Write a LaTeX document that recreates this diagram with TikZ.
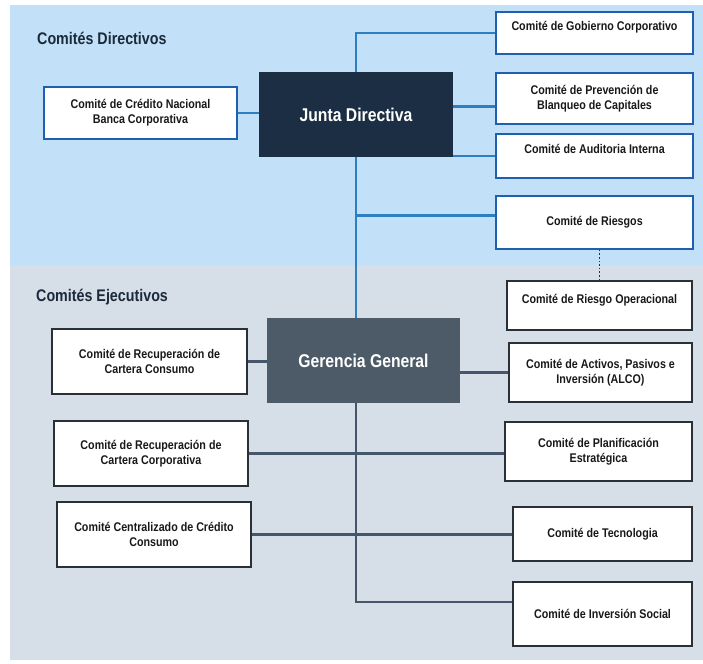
\documentclass[tikz,border=0pt]{standalone}
\usepackage{fontspec}
\setmainfont{Liberation Sans}[FakeStretch=0.85]
\usepackage{tikz}
\usetikzlibrary{positioning}

\definecolor{topbg}{HTML}{C2E0F7}
\definecolor{botbg}{HTML}{D6DFE8}
\definecolor{jdfill}{HTML}{1B2E44}
\definecolor{ggfill}{HTML}{4D5B69}
\definecolor{bluelink}{HTML}{2D7FC2}
\definecolor{blueedge}{HTML}{1F5FB0}
\definecolor{darklink}{HTML}{46566A}
\definecolor{darkedge}{HTML}{2A3038}
\definecolor{headtext}{HTML}{1B2A3A}

\begin{document}
\begin{tikzpicture}[x=1pt, y=-1pt,
    comite/.style={draw, fill=white, line width=1.8pt, inner sep=0pt, align=center,
        text=black!90, font=\bfseries\fontsize{12.6}{15}\selectfont},
    dirbox/.style={comite, draw=blueedge},
    ejebox/.style={comite, draw=darkedge},
    uptext/.style={text depth=14pt},
    mainbox/.style={inner sep=0pt, text=white, font=\bfseries\fontsize{18.5}{21}\selectfont},
    heading/.style={anchor=west, inner sep=0pt, text=headtext, font=\bfseries\fontsize{16.8}{19}\selectfont},
    dirlink/.style={bluelink, line width=2.5pt},
    ejelink/.style={darklink, line width=2.5pt}]

    \useasboundingbox (0,0) rectangle (703,663);
    \fill[topbg] (10,5) rectangle (703,265);
    \fill[botbg] (10,265) rectangle (703,660);

    % comites directivos
    \node[heading] (hdir) at (37,38) {Comités Directivos};
    \node[mainbox, fill=jdfill, minimum width=194, minimum height=85] (jd) at (356,114.5) {Junta Directiva};
    \node[dirbox, minimum width=193, minimum height=52] (cred) at (140.5,113) {Comité de Crédito Nacional\\Banca Corporativa};
    \node[dirbox, uptext, minimum width=197, minimum height=42] (gob) at (594.5,33) {Comité de Gobierno Corporativo};
    \node[dirbox, minimum width=197, minimum height=51] (prev) at (594.5,98.5) {Comité de Prevención de\\Blanqueo de Capitales};
    \node[dirbox, uptext, minimum width=197, minimum height=44] (aud) at (594.5,156) {Comité de Auditoria Interna};
    \node[dirbox, minimum width=197, minimum height=53] (ries) at (594.5,222.5) {Comité de Riesgos};

    % comites ejecutivos
    \node[heading] (heje) at (36,297) {Comités Ejecutivos};
    \node[mainbox, fill=ggfill, minimum width=193, minimum height=85] (gg) at (363.5,360.5) {Gerencia General};
    \node[ejebox, uptext, minimum width=185, minimum height=49] (rop) at (599.5,305.5) {Comité de Riesgo Operacional};
    \node[ejebox, minimum width=183, minimum height=59] (alco) at (600.5,372.5) {Comité de Activos, Pasivos e\\Inversión (ALCO)};
    \node[ejebox, minimum width=195, minimum height=65] (rcc) at (149.5,361.5) {Comité de Recuperación de\\Cartera Consumo};
    \node[ejebox, minimum width=187, minimum height=59] (plan) at (598.5,451.5) {Comité de Planificación\\Estratégica};
    \node[ejebox, minimum width=194, minimum height=65] (rcorp) at (151,453.5) {Comité de Recuperación de\\Cartera Corporativa};
    \node[ejebox, minimum width=179, minimum height=54] (tec) at (602.5,534) {Comité de Tecnologia};
    \node[ejebox, minimum width=194, minimum height=65] (cent) at (154,534.5) {Comité Centralizado de Crédito\\Consumo};
    \node[ejebox, minimum width=179, minimum height=64] (inv) at (602.5,614) {Comité de Inversión Social};

    \coordinate (ggtrunk) at (jd.south |- gg.south);

    % lineas
    \draw[dirlink] (gob.west) -| (jd.north);
    \draw[dirlink] (cred.east) -- (cred.east -| jd.west);
    \draw[dirlink] ([yshift=-8pt]prev.west) -- ([yshift=-8pt]prev.west -| jd.east);
    \draw[dirlink] (aud.west) -- (aud.west -| jd.east);
    \draw[dirlink] ([yshift=7pt]ries.west) -- ([yshift=7pt]ries.west -| jd.south);
    \draw[dirlink] (jd.south) -- (jd.south |- gg.north);
    \draw[darkedge, line width=1.6pt, dotted] (rop.north) -- (rop.north |- ries.south);

    \draw[ejelink] (rcc.east) -- (rcc.east -| gg.west);
    \draw[ejelink] (alco.west) -- (alco.west -| gg.east);
    \draw[ejelink] (ggtrunk) |- ([yshift=12pt]inv.west);
    \draw[ejelink] (rcorp.east) -- (rcorp.east -| plan.west);
    \draw[ejelink] (cent.east) -- (cent.east -| tec.west);
\end{tikzpicture}
\end{document}
